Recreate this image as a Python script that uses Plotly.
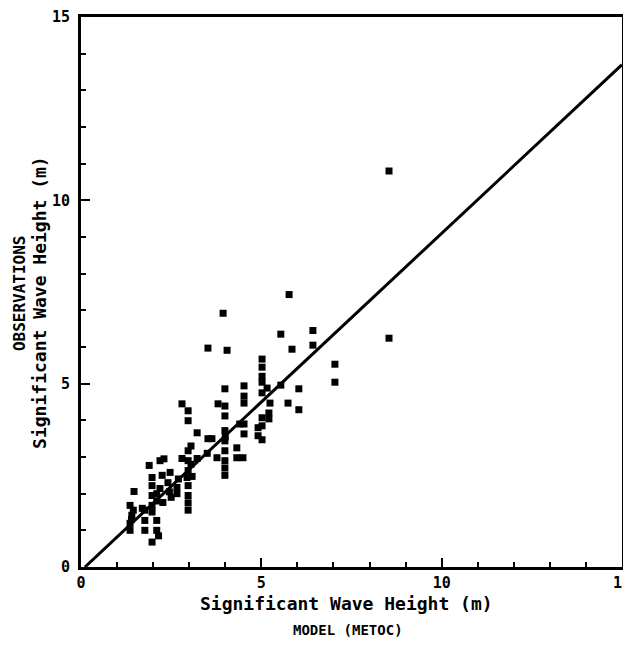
import plotly.graph_objects as go

# Model (METOC) significant wave height (m) vs observed (m)
model = [1.47, 1.36, 1.41, 1.36, 1.36, 1.45, 1.40,
         1.77, 1.77, 1.77, 1.70,
         1.89, 1.97, 1.97, 1.97, 1.97, 1.97, 1.97,
         2.10, 2.10, 2.15, 2.10, 2.10,
         2.19, 2.19, 2.27, 2.25, 2.30,
         2.47, 2.41, 2.45, 2.50,
         2.66, 2.66, 2.70,
         2.80, 2.97, 2.97, 2.97, 2.97, 2.97, 2.97, 2.97, 2.97, 2.97, 2.80, 2.94, 3.08, 3.22, 3.22, 3.05, 3.05,
         3.52, 3.63, 3.52, 3.77, 3.80, 3.50,
         3.94, 4.05, 3.99, 3.99, 3.99, 3.99, 3.99, 3.99, 3.99, 3.99, 3.99, 4.00,
         4.32, 4.32, 4.49, 4.52, 4.52, 4.52, 4.52, 4.52, 4.40,
         5.02, 5.02, 5.02, 5.02, 5.02, 5.24, 5.02, 5.02, 4.91, 4.91, 5.02, 5.16, 5.21, 5.21,
         5.54, 5.54, 5.77, 5.85, 5.74,
         6.04, 6.04, 6.43, 6.43,
         7.04, 7.04,
         8.54, 8.54]
observed = [2.06, 1.68, 1.41, 1.19, 1.00, 1.55, 1.30,
            1.55, 1.27, 1.00, 1.60,
            2.77, 2.44, 2.22, 1.95, 1.68, 1.50, 0.68,
            1.27, 1.00, 0.85, 2.00, 1.80,
            2.90, 2.14, 1.76, 2.50, 2.95,
            2.58, 2.30, 2.05, 1.90,
            2.17, 2.00, 2.40,
            4.45, 4.26, 3.99, 3.17, 2.90, 2.63, 2.22, 1.95, 1.75, 1.55, 2.96, 2.44, 2.47, 2.96, 3.66, 3.30, 2.80,
            3.50, 3.50, 5.97, 2.98, 4.45, 3.10,
            6.92, 5.91, 4.86, 4.39, 4.12, 3.72, 3.44, 3.17, 2.90, 2.70, 2.50, 3.55,
            3.25, 2.98, 2.98, 4.94, 4.66, 4.47, 3.90, 3.63, 3.90,
            5.67, 5.45, 5.20, 5.04, 4.75, 4.47, 4.07, 3.85, 3.80, 3.58, 3.47, 4.88, 4.04, 4.20,
            6.35, 4.96, 7.43, 5.94, 4.47,
            4.86, 4.29, 6.45, 6.05,
            5.53, 5.04,
            10.80, 6.24]

# Fitted regression line end points
fit_x = [0.11, 15.0]
fit_y = [0.0, 13.7]

tick_vals = [0, 5, 10, 15]
tick_text = ["0", "5", "10", "15"]

FONT = "DejaVu Sans Mono"

fig = go.Figure()
fig.add_trace(go.Scatter(x=fit_x, y=fit_y, mode="lines",
                         line=dict(color="black", width=3), showlegend=False))
fig.add_trace(go.Scatter(x=model, y=observed, mode="markers",
                         marker=dict(symbol="square", size=7, color="black"),
                         showlegend=False))

axis_common = dict(
    range=[0, 15], showgrid=False, zeroline=False, automargin=False,
    showline=True, linecolor="black", linewidth=3, mirror=True,
    ticks="inside", ticklen=9, tickwidth=2, tickcolor="black",
    tickmode="array", tickvals=tick_vals, ticktext=tick_text,
    tickfont=dict(family=FONT, size=15, color="black", weight="bold"),
    ticklabeloverflow="allow",
    minor=dict(dtick=1, ticks="inside", ticklen=5, tickwidth=2, tickcolor="black"),
)

fig.update_layout(
    width=623, height=631,
    margin=dict(l=73, r=9, t=9, b=72),
    paper_bgcolor="white", plot_bgcolor="white",
    xaxis=dict(**axis_common),
    yaxis=dict(**axis_common, ticklabelstandoff=5),
    font=dict(family=FONT, color="black"),
    annotations=[
        dict(text="Significant Wave Height (m)", xref="paper", yref="paper",
             x=0.49, y=-0.0655, xanchor="center", yanchor="middle", showarrow=False,
             font=dict(family=FONT, size=18, color="black", weight="bold")),
        dict(text="MODEL (METOC)", xref="paper", yref="paper",
             x=0.493, y=-0.1145, xanchor="center", yanchor="middle", showarrow=False,
             font=dict(family=FONT, size=14, color="black", weight="bold")),
        dict(text="OBSERVATIONS", xref="paper", yref="paper",
             x=-0.1146, y=0.498, xanchor="center", yanchor="middle", showarrow=False,
             textangle=-90,
             font=dict(family=FONT, size=16, color="black", weight="bold")),
        dict(text="Significant Wave Height (m)", xref="paper", yref="paper",
             x=-0.0758, y=0.482, xanchor="center", yanchor="middle", showarrow=False,
             textangle=-90,
             font=dict(family=FONT, size=18, color="black", weight="bold")),
    ],
)

fig.write_html("out.html")
